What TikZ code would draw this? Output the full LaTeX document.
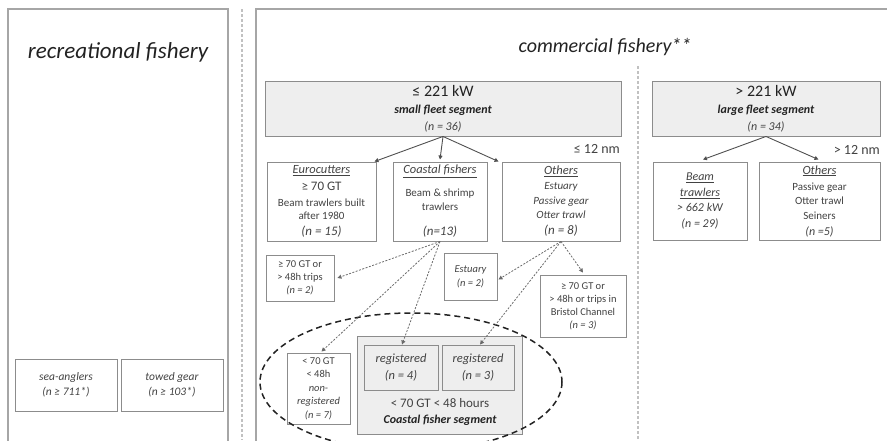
\documentclass[tikz,border=0pt]{standalone}
\usepackage{fontspec}
\setmainfont{Carlito}
\usetikzlibrary{arrows.meta}
\definecolor{ln}{HTML}{8C8C8C}
\definecolor{panel}{HTML}{A6A6A6}
\definecolor{txt}{HTML}{424242}
\definecolor{dark}{HTML}{222222}
\definecolor{fillg}{HTML}{EEEEEE}
\definecolor{arr}{HTML}{505050}
\begin{document}
\begin{tikzpicture}[x=1pt,y=-1pt,
  box/.style={draw=ln, line width=0.9pt, inner sep=0pt, align=center, text=txt},
  segbox/.style={box, fill=fillg},
  solidarr/.style={draw=arr, line width=0.9pt, -{Triangle[length=4pt,width=4pt]}},
  dotarr/.style={draw=arr!85, line width=0.8pt, dash pattern=on 2pt off 1.5pt, -{Triangle[length=4pt,width=4pt]}},
  paneltitle/.style={font=\fontsize{20}{24}\selectfont\itshape, text=dark, inner sep=0pt},
  nmlabel/.style={font=\fontsize{14}{16}\selectfont, text=txt, inner sep=0pt}]
\useasboundingbox (0,0) rectangle (887,440);
\clip (0,0) rectangle (887,440);

% panels
\draw[draw=panel, line width=1.4pt] (8,460) -- (8,9) -- (228,9) -- (228,460);
\draw[draw=panel, line width=1.4pt] (256,460) -- (256,9) -- (900,9);
\draw[draw=panel!70, line width=1.2pt, dash pattern=on 3pt off 2pt] (242,9) -- (242,440);
\draw[draw=panel!70, line width=1.2pt, dash pattern=on 3pt off 2pt] (638,66) -- (638,440);

\node[paneltitle, font=\fontsize{23}{26}\selectfont\itshape] (rectitle) at (118,52) {recreational fishery};
\node[paneltitle] (comtitle) at (605,47) {commercial fishery**};

% recreational boxes
\node[box, minimum width=102pt, minimum height=52pt, font=\fontsize{11.5}{15}\selectfont\itshape] (sea) at (66,385) {\raisebox{-3pt}{sea-anglers}\\\raisebox{-3pt}{(n ≥ 711*)}};
\node[box, minimum width=102pt, minimum height=52pt, font=\fontsize{11.5}{15}\selectfont\itshape] (towed) at (172,385) {\raisebox{-3pt}{towed gear}\\\raisebox{-3pt}{(n ≥ 103*)}};

% fleet segments
\node[segbox, minimum width=356pt, minimum height=55pt, font=\fontsize{12}{17}\selectfont] (small) at (443,108.5)
 {{\fontsize{16}{17}\selectfont\color{dark}≤ 221 kW}\\{\bfseries\itshape\color{dark}small fleet segment}\\{\itshape (n = 36)}};
\node[segbox, minimum width=228pt, minimum height=55pt, font=\fontsize{12}{17}\selectfont] (large) at (766,108.5)
 {{\fontsize{16}{17}\selectfont\color{dark}> 221 kW}\\{\bfseries\itshape\color{dark}large fleet segment}\\{\itshape (n = 34)}};

\node[nmlabel, anchor=east] (nm12a) at (620,149) {≤ 12 nm};
\node[nmlabel, anchor=east] (nm12b) at (880,150) {> 12 nm};

% small fleet children
\node[box, minimum width=109pt, minimum height=79pt, font=\fontsize{11}{15}\selectfont] (euro) at (321.5,201.5)
 {{\fontsize{12.5}{15}\selectfont\itshape\underline{Eurocutters}}\\[2pt]
  {\fontsize{13}{15}\selectfont ≥ 70 GT}\\[1pt]
  Beam trawlers built\\[-2pt]
  after 1980\\[1pt]
  {\fontsize{13}{15}\selectfont\itshape (n = 15)}};
\node[box, minimum width=94pt, minimum height=79pt, font=\fontsize{11}{14}\selectfont] (coast) at (440,201.5)
 {{\fontsize{12.5}{14}\selectfont\itshape\underline{Coastal fishers}}\\[9pt]
  Beam \& shrimp\\
  trawlers\\[11pt]
  {\fontsize{13}{14}\selectfont\itshape (n=13)}};
\node[box, minimum width=118pt, minimum height=79pt, font=\fontsize{11}{15}\selectfont\itshape] (oth) at (561,201.5)
 {{\fontsize{12.5}{15}\selectfont\underline{Others}}\\
  Estuary\\
  Passive gear\\[-1pt]
  Otter trawl\\[1pt]
  {\fontsize{13}{15}\selectfont (n = 8)}};

% large fleet children
\node[box, minimum width=94pt, minimum height=78pt, font=\fontsize{12}{15.5}\selectfont\itshape] (beam) at (700,201)
 {\underline{Beam}\\
  \underline{trawlers}\\
  > 662 kW\\
  (n = 29)};
\node[box, minimum width=121pt, minimum height=78pt, font=\fontsize{11}{15}\selectfont] (othR) at (819.5,201)
 {{\fontsize{12.5}{15}\selectfont\itshape\underline{Others}}\\[1pt]
  Passive gear\\[-1pt]
  Otter trawl\\
  Seiners\\[1pt]
  {\fontsize{12}{15}\selectfont\itshape (n =5)}};

% second level
\node[box, minimum width=68pt, minimum height=46pt, font=\fontsize{10.5}{13}\selectfont] (g70a) at (300,278)
 {≥ 70 GT or\\> 48h trips\\{\itshape (n = 2)}};
\node[box, minimum width=53pt, minimum height=47pt, font=\fontsize{10.5}{14}\selectfont\itshape] (est) at (470.5,276.5)
 {Estuary\\(n = 2)};
\node[box, minimum width=86pt, minimum height=62pt, font=\fontsize{10.5}{13}\selectfont] (bristol) at (583,306)
 {≥ 70 GT or\\> 48h or trips in\\Bristol Channel\\{\itshape (n = 3)}};
\node[box, minimum width=63pt, minimum height=71pt, font=\fontsize{10.5}{13.5}\selectfont] (nonreg) at (318.5,388.5)
 {< 70 GT\\< 48h\\{\itshape non-}\\{\itshape registered}\\{\itshape (n = 7)}};

% coastal fisher segment
\node[segbox, minimum width=165pt, minimum height=98pt] (cseg) at (439.5,385) {};
\node[segbox, minimum width=74pt, minimum height=45pt, font=\fontsize{12.5}{17}\selectfont\itshape] (reg4) at (401,367.5)
 {registered\\(n = 4)};
\node[segbox, minimum width=72pt, minimum height=45pt, font=\fontsize{12.5}{17}\selectfont\itshape] (reg3) at (478,367.5)
 {registered\\(n = 3)};
\node[inner sep=0pt, align=center, font=\fontsize{13}{16}\selectfont, text=txt] (csegtxt) at (440,412)
 {< 70 GT < 48 hours\\{\fontsize{12}{16}\selectfont\bfseries\itshape\color{dark}Coastal fisher segment}};

% ellipse
\draw[draw=dark, line width=1.5pt, dash pattern=on 6pt off 4pt] (411,382) ellipse [x radius=151, y radius=69];

% solid arrows
\draw[solidarr] (small.south) -- ([xshift=-2pt]euro.north east);
\draw[solidarr] (small.south) -- ([yshift=2pt]coast.north);
\draw[solidarr] (small.south) -- ([xshift=-3pt]oth.north west);
\draw[solidarr] (large.south) -- ([xshift=3pt,yshift=2pt]beam.north);
\draw[solidarr] (large.south) -- ([xshift=-1pt,yshift=2pt]othR.north);

% dotted arrows
\draw[dotarr] (coast.south) -- ([xshift=3pt]g70a.east);
\draw[dotarr] (coast.south) -- ([xshift=3pt,yshift=1pt]nonreg.north);
\draw[dotarr] (coast.south) -- ([xshift=1pt]reg4.north);
\draw[dotarr] (oth.south) -- ([xshift=1pt,yshift=-3pt]est.east);
\draw[dotarr] (oth.south) -- ([yshift=2pt]bristol.north);
\draw[dotarr] (oth.south) -- ([xshift=2pt]reg3.north);
\end{tikzpicture}
\end{document}
